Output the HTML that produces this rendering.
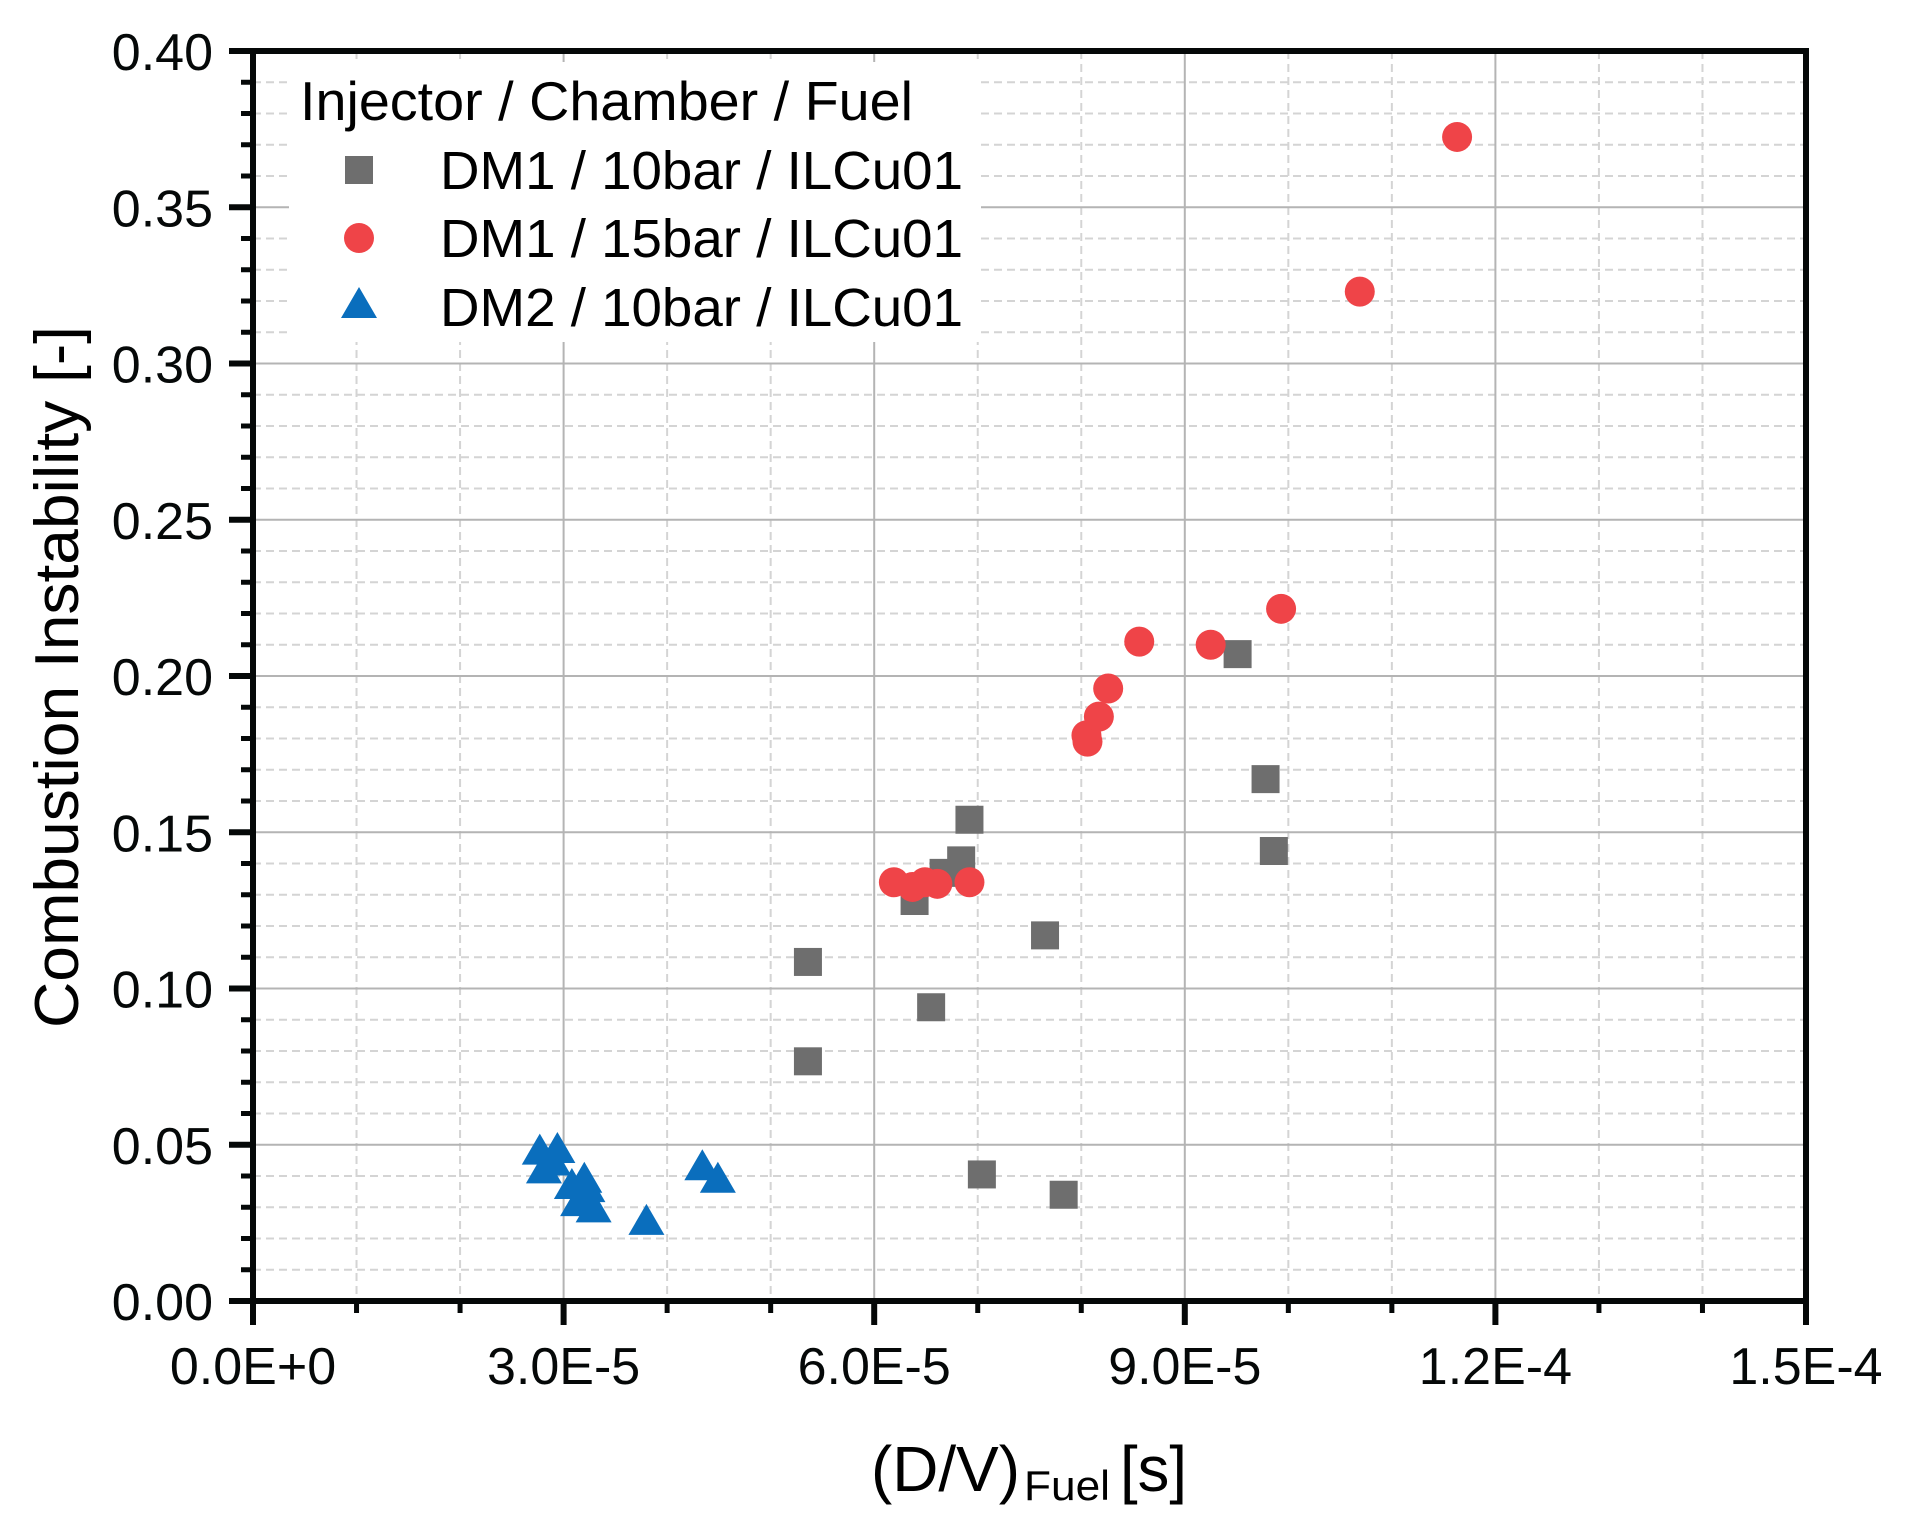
<!DOCTYPE html>
<html><head><meta charset="utf-8"><style>
html,body{margin:0;padding:0;background:#fff;}
svg{display:block;font-family:"Liberation Sans",Arial,sans-serif;}
</style></head><body>
<svg id="chart" width="1906" height="1532" viewBox="0 0 1906 1532" xmlns="http://www.w3.org/2000/svg">
<g id="grid"></g>
<g id="legend">
  <rect x="289" y="62" width="692" height="280" fill="#fff"/>
  <text x="300" y="120" font-size="55" textLength="613" lengthAdjust="spacingAndGlyphs">Injector / Chamber / Fuel</text>
  <rect x="345" y="156" width="28" height="28" fill="#6e6e6e"/>
  <text x="440" y="189" font-size="54" textLength="523" lengthAdjust="spacingAndGlyphs">DM1 / 10bar / ILCu01</text>
  <circle cx="359" cy="238" r="15" fill="#ef4448"/>
  <text x="440" y="257" font-size="54" textLength="523" lengthAdjust="spacingAndGlyphs">DM1 / 15bar / ILCu01</text>
  <polygon points="359,287 341,318 377,318" fill="#0a6ebd"/>
  <text x="440" y="326" font-size="54" textLength="523" lengthAdjust="spacingAndGlyphs">DM2 / 10bar / ILCu01</text>
</g>
<g id="marks"></g>
<g id="axes"></g>
<text transform="translate(78,677) rotate(-90)" text-anchor="middle" font-size="62" textLength="702" lengthAdjust="spacingAndGlyphs">Combustion Instability [-]</text>
<g>
<text x="871" y="1491" font-size="64" textLength="149" lengthAdjust="spacingAndGlyphs">(D/V)</text>
<text x="1024" y="1500" font-size="42" textLength="86" lengthAdjust="spacingAndGlyphs">Fuel</text>
<text x="1120" y="1491" font-size="64" textLength="67" lengthAdjust="spacingAndGlyphs">[s]</text>
</g>
</svg>
<script>
const xTicks = [0, 3e-5, 6e-5, 9e-5, 1.2e-4, 1.5e-4];
const xTickLabels = ["0.0E+0", "3.0E-5", "6.0E-5", "9.0E-5", "1.2E-4", "1.5E-4"];
const yTicks = [0, 0.05, 0.10, 0.15, 0.20, 0.25, 0.30, 0.35, 0.40];
const yTickLabels = ["0.00", "0.05", "0.10", "0.15", "0.20", "0.25", "0.30", "0.35", "0.40"];
const dm1_10_x = [5.36, 5.36, 6.39, 6.55, 6.67, 6.84, 6.92, 7.04, 7.65, 7.83, 9.51, 9.78, 9.86];
const dm1_10_y = [0.1085, 0.0767, 0.128, 0.094, 0.137, 0.141, 0.154, 0.0405, 0.117, 0.034, 0.207, 0.167, 0.144];
const dm1_15_x = [6.19, 6.37, 6.49, 6.61, 6.92, 8.05, 8.06, 8.17, 8.26, 8.56, 9.25, 9.93, 10.69, 11.63];
const dm1_15_y = [0.134, 0.1325, 0.134, 0.1335, 0.134, 0.181, 0.179, 0.187, 0.196, 0.211, 0.210, 0.2215, 0.323, 0.3725];
const dm2_10_x = [2.77, 2.94, 2.81, 2.90, 3.08, 3.20, 3.23, 3.14, 3.29, 3.80, 4.34, 4.49];
const dm2_10_y = [0.0475, 0.048, 0.0415, 0.044, 0.0365, 0.0385, 0.0355, 0.031, 0.029, 0.025, 0.0425, 0.0385];

const NS = "http://www.w3.org/2000/svg";
const L = 253, R = 1806, T = 51, B = 1301;
const xS = v => L + (v / 1.5e-4) * (R - L);
const xS5 = v => xS(v * 1e-5);
const yS = v => B - (v / 0.4) * (B - T);
function mk(tag, attrs, parent) {
  const e = document.createElementNS(NS, tag);
  for (const k in attrs) e.setAttribute(k, attrs[k]);
  parent.appendChild(e);
  return e;
}
const grid = document.getElementById('grid');
const axes = document.getElementById('axes');
const marks = document.getElementById('marks');

for (let i = 1; i < 15; i++) {
  if (i % 3 === 0) continue;
  const x = xS(i * 1e-5);
  const l = mk('line', {x1: x, x2: x, y1: T, y2: B, stroke: '#d4d4d4', 'stroke-width': 2, 'stroke-dasharray': '8 5'}, grid);
  
  
}
for (let i = 1; i < 40; i++) {
  if (i % 5 === 0) continue;
  const y = yS(i * 0.01);
  const l = mk('line', {x1: L, x2: R, y1: y, y2: y, stroke: '#d4d4d4', 'stroke-width': 2, 'stroke-dasharray': '8 5'}, grid);
  
  
}
xTicks.forEach((v, i) => {
  const x = xS(v);
  const l = mk('line', {x1: x, x2: x, y1: T, y2: B, stroke: '#b4b4b4', 'stroke-width': 2}, grid);
  
  
});
yTicks.forEach((v, i) => {
  const y = yS(v);
  const l = mk('line', {x1: L, x2: R, y1: y, y2: y, stroke: '#b4b4b4', 'stroke-width': 2}, grid);
  
  
});

dm1_10_x.forEach((xv, i) => {
  const cx = xS5(xv), cy = yS(dm1_10_y[i]);
  const r = mk('rect', {x: cx - 14, y: cy - 14, width: 28, height: 28, fill: '#6e6e6e'}, marks);
  
  
});
dm2_10_x.forEach((xv, i) => {
  const cx = xS5(xv), cy = yS(dm2_10_y[i]);
  const p = mk('polygon', {points: `${cx},${cy - 19} ${cx - 18},${cy + 12} ${cx + 18},${cy + 12}`, fill: '#0a6ebd'}, marks);
  
  
});
dm1_15_x.forEach((xv, i) => {
  const c = mk('circle', {cx: xS5(xv), cy: yS(dm1_15_y[i]), r: 15, fill: '#ef4448'}, marks);
  
  
});

const frame = mk('rect', {x: L, y: T, width: R - L, height: B - T, fill: 'none', stroke: '#050808', 'stroke-width': 6}, axes);


for (let i = 1; i < 15; i++) {
  if (i % 3 === 0) continue;
  const x = xS(i * 1e-5);
  const t = mk('line', {x1: x, x2: x, y1: B, y2: B + 12, stroke: '#050808', 'stroke-width': 5}, axes);
  
  
}
for (let i = 1; i < 40; i++) {
  if (i % 5 === 0) continue;
  const y = yS(i * 0.01);
  const t = mk('line', {x1: L - 12, x2: L, y1: y, y2: y, stroke: '#050808', 'stroke-width': 5}, axes);
  
  
}
xTicks.forEach((v, i) => {
  const x = xS(v);
  const t = mk('line', {x1: x, x2: x, y1: B, y2: B + 24, stroke: '#050808', 'stroke-width': 6}, axes);
  
  
  const lb = mk('text', {x: x, y: B + 83, 'text-anchor': 'middle', 'font-size': 52, fill: '#050808'}, axes);
  
  
  lb.textContent = xTickLabels[i];
});
yTicks.forEach((v, i) => {
  const y = yS(v);
  const t = mk('line', {x1: L - 24, x2: L, y1: y, y2: y, stroke: '#050808', 'stroke-width': 6}, axes);
  
  
  const lb = mk('text', {x: L - 40, y: y + 19, 'text-anchor': 'end', 'font-size': 52, fill: '#050808'}, axes);
  
  
  lb.textContent = yTickLabels[i];
});
</script>
</body></html>
